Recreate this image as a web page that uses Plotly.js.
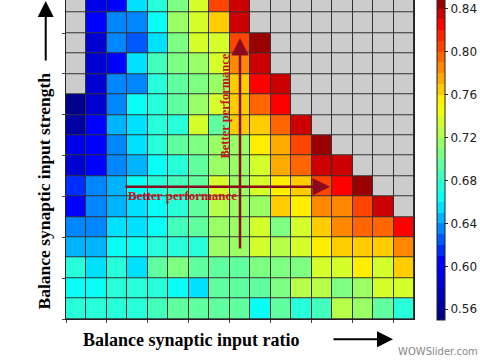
<!DOCTYPE html>
<html><head><meta charset="utf-8">
<script src="https://cdn.plot.ly/plotly-3.0.1.min.js"></script>
<style>html,body{margin:0;padding:0;background:#fff}#chart{width:480px;height:360px}</style>
</head><body><div id="chart"></div>
<script>
const N = null;
// column index = balance synaptic input ratio step (left -> right)
const ratioSteps = [0,1,2,3,4,5,6,7,8,9,10,11,12,13,14,15,16];
// row index = balance synaptic input strength step (top row first, partly cut off)
const strengthSteps = [0,1,2,3,4,5,6,7,8,9,10,11,12,13,14,15];

const row00 = [N,0.600,0.603,0.650,0.675,0.700,0.731,0.804,0.836,N,N,N,N,N,N,N,N];
const row01 = [N,0.605,0.630,0.639,0.665,0.714,0.731,0.766,0.836,N,N,N,N,N,N,N,N];
const row02 = [N,0.581,0.630,0.625,0.650,0.700,0.731,0.737,0.807,0.846,N,N,N,N,N,N,N];
const row03 = [N,0.585,0.603,0.650,0.682,0.700,0.717,0.737,0.781,0.834,N,N,N,N,N,N,N];
const row04 = [N,0.585,0.630,0.639,0.675,0.697,0.707,0.717,0.766,0.825,0.836,N,N,N,N,N,N];
const row05 = [0.553,0.585,0.630,0.662,0.675,0.697,0.714,0.731,0.766,0.796,0.825,N,N,N,N,N,N];
const row06 = [0.562,0.605,0.641,0.652,0.675,0.675,0.731,0.697,0.766,0.766,0.793,0.836,N,N,N,N,N];
const row07 = [0.600,0.603,0.630,0.650,0.675,0.697,0.707,0.714,0.714,0.750,0.778,0.807,0.846,N,N,N,N];
const row08 = [0.581,0.605,0.630,0.641,0.662,0.679,0.697,0.714,0.714,0.731,0.778,0.796,0.834,0.834,N,N,N];
const row09 = [0.612,0.630,0.641,0.662,0.675,0.682,0.697,0.731,0.714,0.731,0.750,0.766,0.800,0.825,0.850,N,N];
const row10 = [0.605,0.630,0.641,0.650,0.668,0.675,0.697,0.720,0.714,0.714,0.766,0.750,0.781,0.781,0.807,0.836,N];
const row11 = [0.630,0.630,0.650,0.650,0.662,0.685,0.690,0.714,0.714,0.731,0.707,0.731,0.766,0.781,0.793,0.793,0.825];
const row12 = [0.641,0.641,0.662,0.662,0.675,0.675,0.675,0.714,0.714,0.731,0.720,0.731,0.750,0.766,0.766,0.766,0.781];
const row13 = [0.675,0.650,0.675,0.650,0.697,0.705,0.690,0.697,0.690,0.707,0.707,0.707,0.731,0.737,0.750,0.737,0.766];
const row14 = [0.662,0.662,0.675,0.675,0.675,0.668,0.650,0.697,0.690,0.690,0.700,0.720,0.720,0.707,0.714,0.731,0.731];
const row15 = [0.675,0.675,0.675,0.675,0.680,0.697,0.697,0.697,0.690,0.668,0.690,0.679,0.682,0.720,0.714,0.697,0.679];

const colorTickVals = [0.56,0.60,0.64,0.68,0.72,0.76,0.80,0.84];
const colorTickText = ['0.56','0.60','0.64','0.68','0.72','0.76','0.80','0.84'];
const zMin = 0.55, zMax = 0.85;

const z = [row00,row01,row02,row03,row04,row05,row06,row07,row08,row09,row10,row11,row12,row13,row14,row15];
const mask = z.map(r => r.map(v => v === null ? 1 : null));

// stepped jet-like colour map
const anchors = [[0.55,[0,0,128]],[0.605,[0,0,255]],[0.662,[0,255,255]],[0.75,[255,255,0]],[0.825,[255,0,0]],[0.85,[128,0,0]]];
function jetAt(v){
  for (let i=0;i<anchors.length-1;i++){
    const a=anchors[i], b=anchors[i+1];
    if (v<=b[0] || i===anchors.length-2){
      const t=Math.max(0,Math.min(1,(v-a[0])/(b[0]-a[0])));
      const c=a[1].map((x,j)=>Math.round(x+(b[1][j]-x)*t));
      return 'rgb('+c.join(',')+')';
    }
  }
}
const nSteps = 30;
const colorscale = [];
for (let k=0;k<nSteps;k++){
  const c = jetAt(zMin + (k+0.5)*(zMax-zMin)/nSteps);
  colorscale.push([k/nSteps, c]);
  colorscale.push([(k+1)/nSteps, c]);
}

const serif = 'Liberation Serif, Times New Roman, serif';
const dark = 'rgb(139,10,30)';
const red = 'rgb(205,16,32)';

const traces = [
  {type:'heatmap', x:ratioSteps, y:strengthSteps, z:mask, colorscale:[[0,'#cccccc'],[1,'#cccccc']],
   showscale:false, xgap:1, ygap:1, hoverinfo:'skip'},
  {type:'heatmap', x:ratioSteps, y:strengthSteps, z:z, zmin:zMin, zmax:zMax, colorscale:colorscale,
   xgap:1, ygap:1,
   colorbar:{x:1.0647, xanchor:'left', xpad:0, ypad:0, thickness:8, outlinewidth:1, outlinecolor:'#222',
     lenmode:'pixels', len:322, yanchor:'bottom', y:-0.0031,
     tickmode:'array', tickvals:colorTickVals, ticktext:colorTickText, ticks:'outside', ticklen:3,
     tickcolor:'#222', tickfont:{family:'DejaVu Sans, sans-serif', size:12, color:'#222'}}}
];

const layout = {
  width:480, height:360,
  margin:{l:66, r:66, t:0, b:41, pad:0},
  paper_bgcolor:'#ffffff', plot_bgcolor:'#333333',
  xaxis:{range:[-0.5,16.5], showgrid:false, zeroline:false, showticklabels:false,
    ticks:'outside', ticklen:3, tickcolor:'#444', tick0:-0.5, dtick:2,
    showline:true, linecolor:'#222', linewidth:1, mirror:false},
  yaxis:{range:[15.5,-0.12], showgrid:false, zeroline:false, showticklabels:false,
    ticks:'outside', ticklen:3, tickcolor:'#444', tick0:-0.5, dtick:2,
    showline:true, linecolor:'#222', linewidth:1, mirror:true},
  annotations:[
    {text:'<b>Balance synaptic input strength</b>', xref:'paper', yref:'paper', x:-0.0632, y:0.3997,
     textangle:-90, showarrow:false, xanchor:'center', yanchor:'middle',
     font:{family:serif, size:17.5, color:'#000'}},
    {text:'', xref:'paper', yref:'paper', x:-0.0583, y:1.0, ax:0, ay:62, showarrow:true,
     arrowhead:2, arrowwidth:2, arrowsize:1.6, arrowcolor:'#000', standoff:0},
    {text:'<b>Balance synaptic input ratio</b>', xref:'paper', yref:'paper', x:0.362, y:-0.0658,
     showarrow:false, xanchor:'center', yanchor:'middle',
     font:{family:serif, size:18, color:'#000'}},
    {text:'', xref:'paper', yref:'paper', x:0.9397, y:-0.0636, ax:-61, ay:0, showarrow:true,
     arrowhead:2, arrowwidth:2, arrowsize:1.6, arrowcolor:'#000', standoff:0},
    {text:'', xref:'paper', yref:'paper', x:0.7586, y:0.4147, ax:-206, ay:0, showarrow:true,
     arrowhead:2, arrowwidth:2.5, arrowsize:1.4, arrowcolor:dark, standoff:0},
    {text:'', xref:'paper', yref:'paper', x:0.5, y:0.8809, ax:0, ay:212, showarrow:true,
     arrowhead:2, arrowwidth:2.5, arrowsize:1.4, arrowcolor:dark, standoff:0},
    {text:'<b>Better performance</b>', xref:'paper', yref:'paper', x:0.3362, y:0.3856, showarrow:false,
     xanchor:'center', yanchor:'middle', font:{family:serif, size:13, color:red}},
    {text:'<b>Better performance</b>', xref:'paper', yref:'paper', x:0.4569, y:0.6661, showarrow:false,
     textangle:-90, xanchor:'center', yanchor:'middle', font:{family:serif, size:12.5, color:red}},
    {text:'WOWSlider.com', xref:'paper', yref:'paper', x:1.069, y:-0.1034, showarrow:false,
     xanchor:'center', yanchor:'middle', font:{family:'DejaVu Sans, sans-serif', size:10, color:'#888'}}
  ]
};

Plotly.newPlot('chart', traces, layout, {staticPlot:true, displayModeBar:false});
</script>
</body></html>
